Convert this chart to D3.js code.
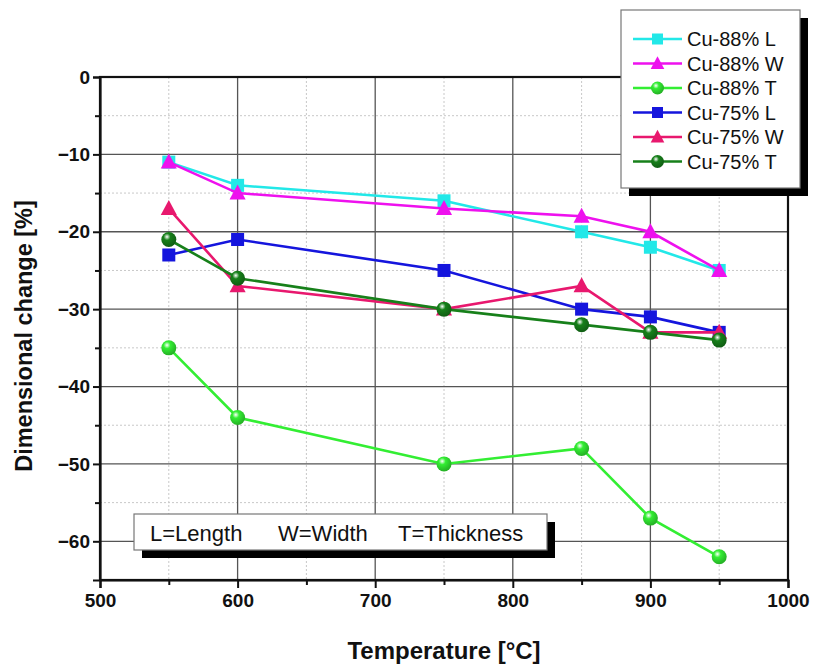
<!DOCTYPE html>
<html>
<head>
<meta charset="utf-8">
<script src="https://cdn.jsdelivr.net/npm/d3@7"></script>
<style>
  body { margin: 0; background: #fff; }
  text { font-family: "Liberation Sans", Arial, sans-serif; }
</style>
</head>
<body>
<div id="vis"></div>
<script>
// data
const TEMPS = [550, 600, 750, 850, 900, 950];
const CU88_L = [-11, -14, -16, -20, -22, -25];
const CU88_W = [-11, -15, -17, -18, -20, -25];
const CU88_T = [-35, -44, -50, -48, -57, -62];
const CU75_L = [-23, -21, -25, -30, -31, -33];
const CU75_W = [-17, -27, -30, -27, -33, -33];
const CU75_T = [-21, -26, -30, -32, -33, -34];
const X_TICKS = [500, 600, 700, 800, 900, 1000];
const Y_TICKS = [0, -10, -20, -30, -40, -50, -60];

const SERIES = [
  {name: "Cu-88% L", values: CU88_L, color: "#22e8e8", shape: "square"},
  {name: "Cu-88% W", values: CU88_W, color: "#ee11ee", shape: "triangle"},
  {name: "Cu-88% T", values: CU88_T, color: "#33ee33", shape: "sphere"},
  {name: "Cu-75% L", values: CU75_L, color: "#1515dd", shape: "square"},
  {name: "Cu-75% W", values: CU75_W, color: "#e8186e", shape: "triangle"},
  {name: "Cu-75% T", values: CU75_T, color: "#17801a", shape: "sphere"}
];

const FRAME_WIDTH = 815;
const FRAME_HEIGHT = 664;
const MARGINS = {left: 100, right: 27, top: 77, bottom: 84};
const VIS_WIDTH = FRAME_WIDTH - MARGINS.left - MARGINS.right;
const VIS_HEIGHT = FRAME_HEIGHT - MARGINS.top - MARGINS.bottom;

const FRAME = d3.select("#vis")
  .append("svg")
    .attr("width", FRAME_WIDTH)
    .attr("height", FRAME_HEIGHT);

const X = d3.scaleLinear().domain([500, 1000]).range([0, VIS_WIDTH]);
const Y = d3.scaleLinear().domain([-65, 0]).range([VIS_HEIGHT, 0]);

// sphere gradients
const defs = FRAME.append("defs");
SERIES.filter(s => s.shape === "sphere").forEach((s, i) => {
  const g = defs.append("radialGradient")
    .attr("id", "sph" + i)
    .attr("cx", "38%").attr("cy", "32%").attr("r", "65%");
  g.append("stop").attr("offset", "0%").attr("stop-color", "#ffffff");
  g.append("stop").attr("offset", "35%").attr("stop-color", s.color);
  g.append("stop").attr("offset", "100%").attr("stop-color", d3.color(s.color).darker(0.8));
  s.grad = "url(#sph" + i + ")";
});

const PLOT = FRAME.append("g")
  .attr("transform", "translate(" + MARGINS.left + "," + MARGINS.top + ")");

// minor grid (dotted)
const xMinor = d3.range(550, 1000, 100);
const yMinor = d3.range(-5, -65, -10);
PLOT.selectAll(".gxm").data(xMinor).enter().append("line")
  .attr("x1", d => X(d)).attr("x2", d => X(d))
  .attr("y1", 0).attr("y2", VIS_HEIGHT)
  .attr("stroke", "#c8c8c8").attr("stroke-width", 1).attr("stroke-dasharray", "2,2");
PLOT.selectAll(".gym").data(yMinor).enter().append("line")
  .attr("x1", 0).attr("x2", VIS_WIDTH)
  .attr("y1", d => Y(d)).attr("y2", d => Y(d))
  .attr("stroke", "#c8c8c8").attr("stroke-width", 1).attr("stroke-dasharray", "2,2");

// major grid
PLOT.selectAll(".gx").data(X_TICKS.slice(1, -1)).enter().append("line")
  .attr("x1", d => X(d)).attr("x2", d => X(d))
  .attr("y1", 0).attr("y2", VIS_HEIGHT)
  .attr("stroke", "#555").attr("stroke-width", 1.3);
PLOT.selectAll(".gy").data(Y_TICKS.slice(1)).enter().append("line")
  .attr("x1", 0).attr("x2", VIS_WIDTH)
  .attr("y1", d => Y(d)).attr("y2", d => Y(d))
  .attr("stroke", "#555").attr("stroke-width", 1.3);

// frame
PLOT.append("rect")
  .attr("width", VIS_WIDTH).attr("height", VIS_HEIGHT)
  .attr("fill", "none").attr("stroke", "#111").attr("stroke-width", 2.2);

// axes
PLOT.append("g")
  .attr("transform", "translate(0," + VIS_HEIGHT + ")")
  .call(d3.axisBottom(X).tickValues(X_TICKS).tickSize(8).tickPadding(6).tickFormat(d3.format("d")));
PLOT.append("g")
  .attr("transform", "translate(0," + VIS_HEIGHT + ")")
  .call(d3.axisBottom(X).tickValues(xMinor).tickSize(5).tickFormat(""))
  .call(g => g.select(".domain").remove());
PLOT.append("g")
  .call(d3.axisLeft(Y).tickValues(Y_TICKS).tickSize(7).tickPadding(3).tickFormat(d3.format("d")));
PLOT.append("g")
  .call(d3.axisLeft(Y).tickValues(yMinor).tickSize(5).tickFormat(""))
  .call(g => g.select(".domain").remove());

PLOT.selectAll(".tick line").attr("stroke", "#111").attr("stroke-width", 2);
PLOT.selectAll(".domain").attr("stroke", "#111").attr("stroke-width", 2.2);
PLOT.selectAll(".tick text")
  .attr("font-family", "Liberation Sans, Arial, sans-serif")
  .attr("font-size", "19px").attr("font-weight", "bold").attr("fill", "#111");

// axis titles
FRAME.append("text")
  .attr("x", MARGINS.left + X(750)).attr("y", 659)
  .attr("text-anchor", "middle")
  .attr("font-size", "24px").attr("font-weight", "bold").attr("fill", "#111")
  .text("Temperature [°C]");
FRAME.append("text")
  .attr("transform", "translate(32," + 336 + ") rotate(-90)")
  .attr("text-anchor", "middle")
  .attr("font-size", "23.5px").attr("font-weight", "bold").attr("fill", "#111")
  .text("Dimensional change [%]");

// markers
function drawMarker(sel, s, x, y, size) {
  if (s.shape === "square") {
    sel.append("rect")
      .attr("x", x - size / 2).attr("y", y - size / 2)
      .attr("width", size).attr("height", size)
      .attr("fill", s.color);
  } else if (s.shape === "triangle") {
    const h = size * 1.1;
    sel.append("path")
      .attr("d", "M" + x + "," + (y - h * 0.6) + "L" + (x + size * 0.62) + "," + (y + h * 0.45) +
                 "L" + (x - size * 0.62) + "," + (y + h * 0.45) + "Z")
      .attr("fill", s.color);
  } else {
    sel.append("circle")
      .attr("cx", x).attr("cy", y).attr("r", size / 2 + 1)
      .attr("fill", s.grad);
  }
}

const line = d3.line().x(d => X(d[0])).y(d => Y(d[1]));

SERIES.forEach(s => {
  const pts = TEMPS.map((t, i) => [t, s.values[i]]);
  PLOT.append("path")
    .datum(pts)
    .attr("d", line)
    .attr("fill", "none")
    .attr("stroke", s.color)
    .attr("stroke-width", 2.6);
  const mg = PLOT.append("g");
  pts.forEach(p => drawMarker(mg, s, X(p[0]), Y(p[1]), 13));
});

// legend
const LEG = {x: 621, y: 10, w: 179, h: 178};
FRAME.append("rect")
  .attr("x", LEG.x + 8).attr("y", LEG.y + 8)
  .attr("width", LEG.w).attr("height", LEG.h).attr("fill", "#000");
FRAME.append("rect")
  .attr("x", LEG.x).attr("y", LEG.y)
  .attr("width", LEG.w).attr("height", LEG.h)
  .attr("fill", "#fff").attr("stroke", "#777").attr("stroke-width", 1.2);

SERIES.forEach((s, i) => {
  const cy = 39 + i * 24.5;
  const g = FRAME.append("g");
  g.append("line")
    .attr("x1", 633).attr("x2", 682).attr("y1", cy).attr("y2", cy)
    .attr("stroke", s.color).attr("stroke-width", 2.6);
  drawMarker(g, s, 657.5, cy, 11);
  g.append("text")
    .attr("x", 687).attr("y", cy + 7)
    .attr("font-size", "20px").attr("fill", "#111")
    .text(s.name);
});

// note box
const NOTE = {x: 134, y: 514, w: 413, h: 36};
FRAME.append("rect")
  .attr("x", NOTE.x + 8).attr("y", NOTE.y + 8)
  .attr("width", NOTE.w).attr("height", NOTE.h).attr("fill", "#000");
FRAME.append("rect")
  .attr("x", NOTE.x).attr("y", NOTE.y)
  .attr("width", NOTE.w).attr("height", NOTE.h)
  .attr("fill", "#fff").attr("stroke", "#777").attr("stroke-width", 1.2);
const NOTE_TEXT = [["L=Length", 150], ["W=Width", 278], ["T=Thickness", 398]];
NOTE_TEXT.forEach(d => {
  FRAME.append("text")
    .attr("x", d[1]).attr("y", 541)
    .attr("font-size", "22px").attr("fill", "#111")
    .text(d[0]);
});
</script>
</body>
</html>
